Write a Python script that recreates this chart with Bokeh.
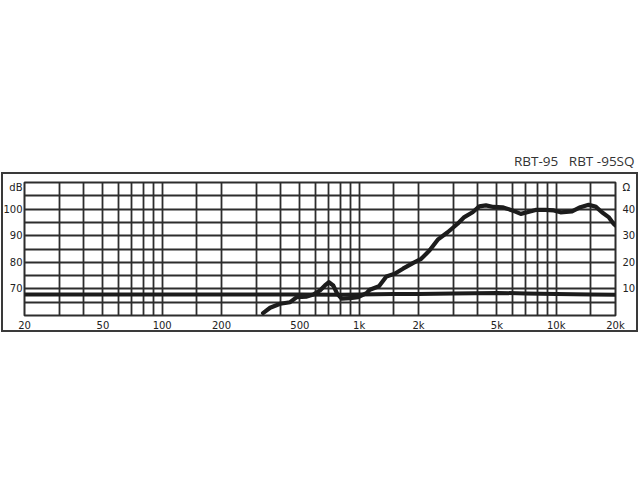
import math
from bokeh.plotting import figure
from bokeh.models import (Range1d, LinearAxis, FixedTicker, InlineStyleSheet)
from bokeh.embed import file_html
from bokeh.resources import INLINE

# ---- data ----
freq_hz = [325, 353, 397, 446, 482, 542, 585, 632, 670, 702, 738, 773, 814, 897,
           988, 1089, 1132, 1260, 1374, 1514, 1668, 1872, 2064, 2274, 2505, 2812,
           3160, 3417, 3765, 4071, 4400, 4800, 5340, 5993, 6607, 7134, 7862, 8830,
           9727, 10520, 12030, 13270, 14620, 15810, 17070, 18450, 19550, 20000]
spl_db = [60.9, 62.9, 64.4, 65.0, 66.9, 67.1, 67.9, 69.4, 71.3, 72.5, 71.3, 68.2,
          66.3, 66.5, 66.9, 68.4, 69.7, 71.0, 74.7, 75.7, 77.6, 79.7, 81.3, 84.4,
          88.5, 91.3, 94.5, 97.0, 98.8, 101.0, 101.4, 100.8, 100.7, 99.5, 98.2,
          98.8, 99.7, 99.7, 99.5, 98.8, 99.1, 100.7, 101.6, 101.0, 98.8, 97.0,
          94.5, 93.8]

imp_freq_hz = [20, 50, 100, 200, 500, 800, 1000, 1500, 2000, 3000, 5000, 7000,
               10000, 15000, 20000]
imp_ohm = [7.9, 7.9, 7.9, 7.9, 7.9, 7.8, 7.9, 8.1, 8.1, 8.3, 8.5, 8.3, 8.1, 7.9, 7.8]

x_tick_values = [20, 50, 100, 200, 500, 1000, 2000, 5000, 10000, 20000]
x_tick_labels = ["20", "50", "100", "200", "500", "1k", "2k", "5k", "10k", "20k"]
x_grid_values = [20, 30, 40, 50, 60, 70, 80, 90, 100, 150, 200, 300, 400, 500,
                 600, 700, 800, 900, 1000, 1500, 2000, 3000, 4000, 5000, 6000,
                 7000, 8000, 9000, 10000, 15000, 20000]
db_ticks = [70, 80, 90, 100]
ohm_ticks = [10, 20, 30, 40]
db_unit_label = "dB"
ohm_unit_label = "Ω"
title_text = "RBT-95\u00a0\u00a0\u00a0RBT\u00a0-95SQ"

# ---- layout (pixels) ----
W, H = 640, 480
FL, FR, FT, FB = 23, 615, 182, 315
X0, X1, Y0, Y1 = 20, 20000, 60, 110
DB_TO_OHM = 60


def px_to_y(py):
    return Y1 - (py - FT) / (FB - FT) * (Y1 - Y0)


GRID = "#2d2d2d"
INK = "#1c1c1c"

css = """
:host { position: absolute; left: 0; top: 0; }
:host::after {
  content: ""; position: absolute; pointer-events: none;
  left: 1px; top: 172px; width: 633px; height: 156px;
  border: 2px solid #3a3a3a;
}
"""

p = figure(width=W, height=H, x_axis_type="log",
           x_range=Range1d(X0, X1), y_range=Range1d(Y0, Y1),
           output_backend="svg", toolbar_location=None,
           min_border_left=FL, min_border_right=W - FR,
           min_border_top=FT, min_border_bottom=H - FB,
           background_fill_color="white", border_fill_color="white")
p.stylesheets = [InlineStyleSheet(css=css)]

p.title.text = title_text
p.title.align = "right"
p.title.text_font = "Open Sans"
p.title.text_font_size = "13.5px"
p.title.text_font_style = "normal"
p.title.text_color = "#333333"
p.title.standoff = 25
p.title.offset = -19

p.outline_line_color = GRID
p.outline_line_width = 2

p.xgrid.ticker = FixedTicker(ticks=x_grid_values)
p.ygrid.ticker = FixedTicker(ticks=list(range(Y0, Y1 + 1, 5)))
for g in (p.xgrid, p.ygrid):
    g.grid_line_color = GRID
    g.grid_line_width = 1.8

# left dB axis
unit_pos = px_to_y(186.5)
p.yaxis.ticker = FixedTicker(ticks=db_ticks + [unit_pos])
p.yaxis.major_label_overrides = {unit_pos: db_unit_label}

# bottom axis
p.xaxis.ticker = FixedTicker(ticks=x_tick_values)
p.xaxis.major_label_overrides = dict(zip(x_tick_values, x_tick_labels))

# right Ohm axis
p.extra_y_ranges = {"ohm": Range1d(Y0 - DB_TO_OHM, Y1 - DB_TO_OHM)}
ohm_unit_pos = unit_pos - DB_TO_OHM
raxis = LinearAxis(y_range_name="ohm",
                   ticker=FixedTicker(ticks=ohm_ticks + [ohm_unit_pos]),
                   major_label_overrides={ohm_unit_pos: ohm_unit_label})
p.add_layout(raxis, "right")

for ax in (p.xaxis[0], p.yaxis[0], raxis):
    ax.axis_line_color = None
    ax.major_tick_line_color = None
    ax.minor_tick_line_color = None
    ax.major_tick_out = 0
    ax.major_tick_in = 0
    ax.minor_tick_out = 0
    ax.minor_tick_in = 0
    ax.major_label_text_font = "DejaVu Sans"
    ax.major_label_text_font_size = "10px"
    ax.major_label_text_color = "#222222"
p.yaxis[0].major_label_standoff = 2
p.xaxis[0].major_label_standoff = 4
raxis.major_label_standoff = 7

# curves
p.line(imp_freq_hz, imp_ohm, y_range_name="ohm", line_width=4, line_color=INK,
       line_join="round", line_cap="round")
p.line(freq_hz, spl_db, line_width=4.2, line_color=INK,
       line_join="round", line_cap="round")

open("out.html", "w").write(file_html(p, INLINE))
